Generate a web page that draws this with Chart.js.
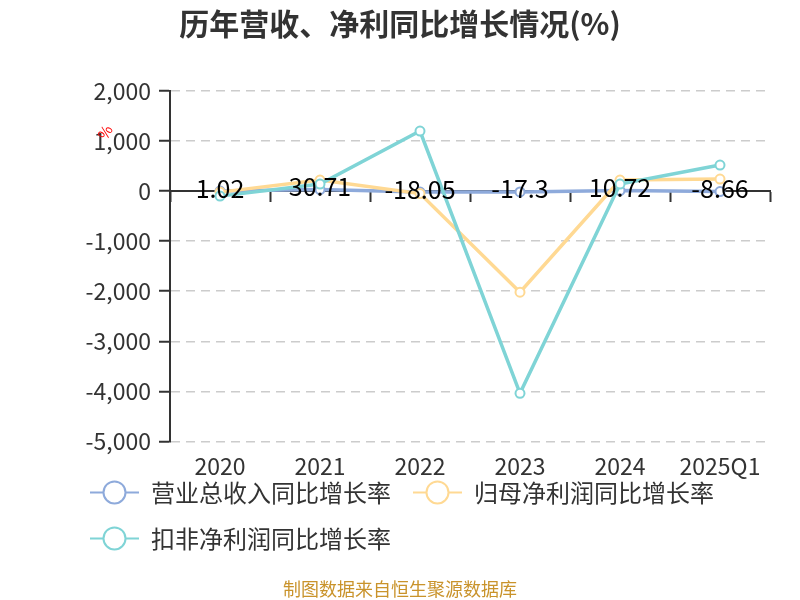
<!DOCTYPE html>
<html>
<head>
<meta charset="utf-8">
<script src="https://cdn.jsdelivr.net/npm/chart.js@4"></script>
<style>
  html, body { margin: 0; padding: 0; background: #fff; }
</style>
</head>
<body>
<canvas id="growthChart" width="800" height="600"></canvas>
<script>
// ---- data ----
const categories = ['2020', '2021', '2022', '2023', '2024', '2025Q1'];
const revenueGrowth = [1.02, 30.71, -18.05, -17.3, 10.72, -8.66];
const netProfitGrowth = [-20, 220, -50, -2020, 220, 240];
const deductedProfitGrowth = [-100, 140, 1200, -4040, 140, 520];
const seriesNames = ['营业总收入同比增长率', '归母净利润同比增长率', '扣非净利润同比增长率'];
const seriesColors = ['#8eaadb', '#ffd993', '#7fd4d6'];
const yTicks = { min: -5000, max: 2000, step: 1000 };

const FONT = '"Noto Sans CJK SC", "Noto Sans", sans-serif';
Chart.defaults.font.family = FONT;
Chart.defaults.color = '#333';

// labels for the revenue series, drawn on its points
const valueLabels = {
  id: 'valueLabels',
  afterDatasetsDraw(chart) {
    const ctx = chart.ctx;
    const meta = chart.getDatasetMeta(0);
    ctx.save();
    ctx.font = '25px ' + FONT;
    ctx.fillStyle = '#000';
    ctx.textAlign = 'center';
    ctx.textBaseline = 'middle';
    meta.data.forEach((pt, i) => {
      ctx.fillText(String(revenueGrowth[i]), pt.x, pt.y - 3);
    });
    ctx.restore();
  }
};

// legend markers: a short line with a hollow circle
const legendMarkers = {
  id: 'legendMarkers',
  afterLayout(chart) {
    // legend starts further right than the title box
    chart.legend.left = 68;
    // let the x labels overflow the squeezed axis box
    const x = chart.scales.x;
    x.bottom = x.top + 45;
  },
  afterDraw(chart) {
    const lg = chart.legend;
    const ctx = chart.ctx;
    ctx.save();
    lg.legendHitBoxes.forEach((hb, i) => {
      const color = seriesColors[lg.legendItems[i].datasetIndex];
      const cy = hb.top + hb.height / 2;
      ctx.strokeStyle = color;
      ctx.lineWidth = 2;
      ctx.beginPath();
      ctx.moveTo(hb.left, cy);
      ctx.lineTo(hb.left + 49, cy);
      ctx.stroke();
      ctx.beginPath();
      ctx.arc(hb.left + 24.5, cy, 11, 0, Math.PI * 2);
      ctx.fillStyle = '#fff';
      ctx.fill();
      ctx.stroke();
    });
    ctx.restore();
  }
};

// the small red unit sign next to the y axis
const unitMark = {
  id: 'unitMark',
  afterDraw(chart) {
    const ctx = chart.ctx;
    const y = chart.scales.y;
    ctx.save();
    ctx.translate(chart.chartArea.left - 65, y.getPixelForValue(1180));
    ctx.rotate(-Math.PI / 3);
    ctx.font = '15px ' + FONT;
    ctx.fillStyle = '#ff0000';
    ctx.textAlign = 'center';
    ctx.textBaseline = 'middle';
    ctx.fillText('%', 0, 0);
    ctx.restore();
  }
};

const seriesData = [revenueGrowth, netProfitGrowth, deductedProfitGrowth];

new Chart(document.getElementById('growthChart'), {
  type: 'line',
  data: {
    labels: categories,
    datasets: seriesData.map((vals, i) => ({
      label: seriesNames[i],
      data: vals,
      order: 3 - i,
      borderColor: seriesColors[i],
      backgroundColor: seriesColors[i],
      borderWidth: 3.5,
      pointRadius: 4.5,
      pointBorderWidth: 2,
      pointBackgroundColor: '#fff',
      pointBorderColor: seriesColors[i],
      tension: 0,
      xAxisID: 'x',
      yAxisID: 'y'
    }))
  },
  options: {
    responsive: false,
    animation: false,
    layout: { padding: { left: 30, right: 30, top: 0, bottom: 0 } },
    plugins: {
      title: {
        display: true,
        text: '历年营收、净利同比增长情况(%)',
        color: '#333',
        font: { size: 30, weight: 'bold' },
        padding: { top: 6, bottom: 49 }
      },
      subtitle: {
        display: true,
        position: 'bottom',
        text: '制图数据来自恒生聚源数据库',
        color: '#c9932b',
        font: { size: 18 },
        padding: { top: 18, bottom: 0 }
      },
      legend: {
        position: 'bottom',
        align: 'start',
        labels: {
          color: '#333',
          font: { size: 24 },
          boxWidth: 49,
          boxHeight: 24,
          padding: 22,
          sort: (a, b) => a.datasetIndex - b.datasetIndex,
          generateLabels(chart) {
            return Chart.defaults.plugins.legend.labels.generateLabels(chart).map(item => {
              item.fillStyle = 'rgba(0,0,0,0)';
              item.strokeStyle = 'rgba(0,0,0,0)';
              item.lineWidth = 0;
              return item;
            });
          }
        }
      },
      tooltip: { enabled: false }
    },
    scales: {
      x: {
        type: 'category',
        position: 'bottom',
        offset: true,
        grid: { display: false, drawTicks: false },
        border: { display: false },
        ticks: { color: '#333', font: { size: 23 }, padding: 11, maxRotation: 0, autoSkip: false },
        afterFit(scale) { scale.height = 17; }
      },
      x0: {
        type: 'category',
        labels: categories,
        position: { y: 0 },
        offset: true,
        grid: { offset: true, drawOnChartArea: false, drawTicks: true, tickLength: 10, tickColor: '#333', tickWidth: 2 },
        border: { color: '#333', width: 2 },
        ticks: { display: false }
      },
      y: {
        min: yTicks.min,
        max: yTicks.max,
        ticks: {
          stepSize: yTicks.step,
          color: '#333',
          font: { size: 23 },
          padding: 8,
          callback: v => v.toLocaleString('en-US')
        },
        grid: { color: '#cccccc', lineWidth: 1.5, tickColor: '#333', tickLength: 11, tickWidth: 2 },
        border: { color: '#333', width: 2, dash: [9, 6] },
        afterFit(scale) { scale.width = 140; }
      }
    }
  },
  plugins: [valueLabels, legendMarkers, unitMark]
});
</script>
</body>
</html>
